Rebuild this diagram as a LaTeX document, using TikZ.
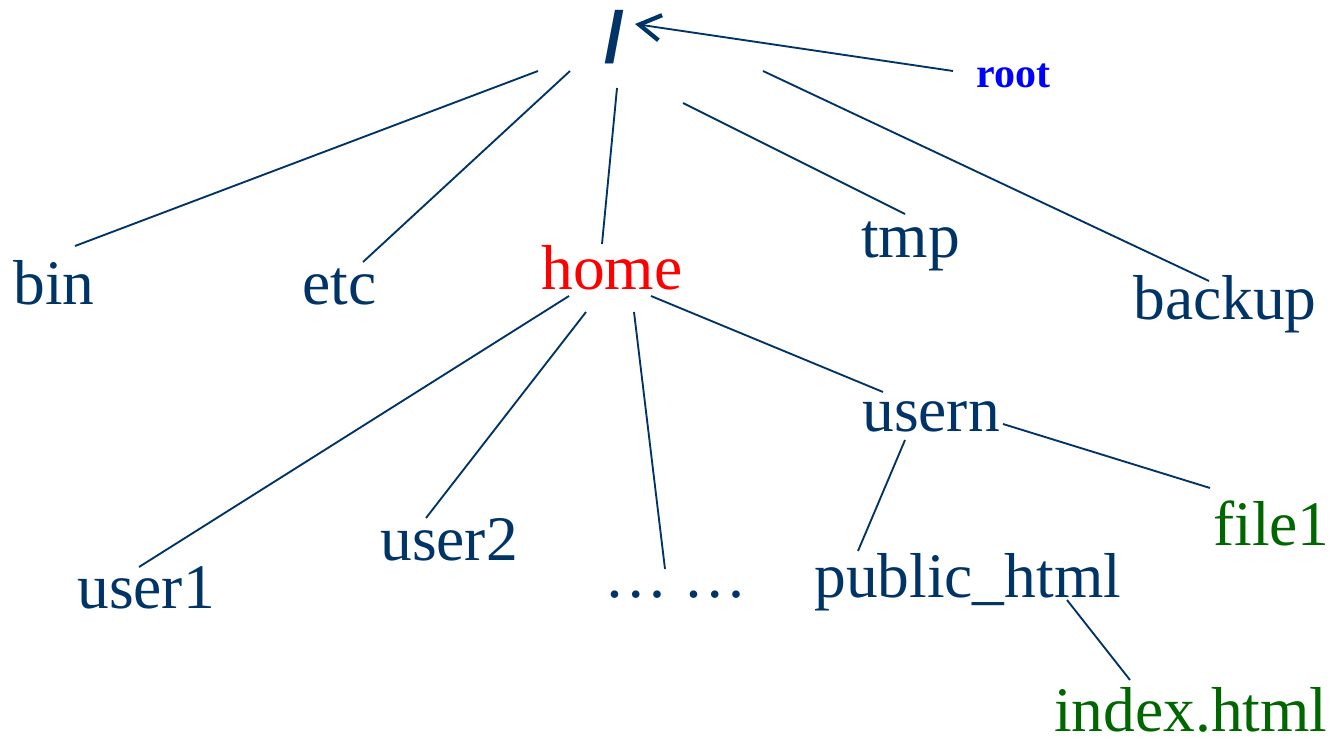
\documentclass[tikz,border=0pt]{standalone}
\usepackage{fontspec}
\setmainfont{Liberation Serif}
\newfontfamily\slashfont{Liberation Sans}
\usetikzlibrary{arrows.meta}
\definecolor{navy}{RGB}{0,51,102}
\definecolor{dirred}{RGB}{255,0,0}
\definecolor{filegreen}{RGB}{0,102,0}
\definecolor{rootblue}{RGB}{0,0,255}
\tikzset{
  dir/.style={anchor=base west, inner sep=0pt, text=navy,
    font=\fontsize{47.6}{50}\selectfont},
  cur/.style={dir, text=dirred},
  leaf/.style={dir, text=filegreen},
  link/.style={draw=navy, line width=1.4pt},
}
\begin{document}
\begin{tikzpicture}[x=0.75pt, y=-0.75pt]
\useasboundingbox (0,0) rectangle (1332,741);

% directory and file names (left edge, baseline)
\node[anchor=base west, inner sep=0pt, text=navy,
      font=\slashfont\bfseries\fontsize{54}{56}\selectfont] (slash) at (604,63) {/};
\node[anchor=base west, inner sep=0pt, text=rootblue,
      font=\bfseries\fontsize{31.5}{33}\selectfont] (root) at (976,88) {root};
\node[dir]  (bin)     at (13,305)   {bin};
\node[dir]  (etc)     at (302,305)  {etc};
\node[cur]  (home)    at (541,290)  {home};
\node[dir]  (tmp)     at (861,258)  {tmp};
\node[dir]  (backup)  at (1133,320) {backup};
\node[dir]  (user1)   at (77,608)   {user1};
\node[dir]  (user2)   at (380,560)  {user2};
\node[dir]  (dots)    at (604,597)  {\dots{} \dots};
\node[dir]  (usern)   at (862,432)  {usern};
\node[dir]  (pubhtml) at (814,597)  {public\_html};
\node[leaf] (file1)   at (1213,545) {file1};
\node[leaf, text depth=0pt] (index) at (1054,731) {index.html};

% free ends of the connectors
\coordinate (s-bin)    at (538,71);
\coordinate (bin-s)    at (75,246);
\coordinate (s-etc)    at (570,71);
\coordinate (etc-s)    at (363,262);
\coordinate (s-home)   at (617,88);
\coordinate (home-s)   at (602,244);
\coordinate (s-tmp)    at (683,103);
\coordinate (tmp-s)    at (905,214);
\coordinate (s-backup) at (763,71);
\coordinate (backup-s) at (1209,281);
\coordinate (root-s)   at (953,71);
\coordinate (s-root)   at (635,24);
\coordinate (h-user1)  at (569,296);
\coordinate (user1-h)  at (139,567);
\coordinate (h-user2)  at (586,312);
\coordinate (user2-h)  at (426,518);
\coordinate (h-dots)   at (634,312);
\coordinate (dots-h)   at (665,569);
\coordinate (h-usern)  at (651,296);
\coordinate (usern-h)  at (883,392);
\coordinate (u-pub)    at (905,440);
\coordinate (pub-u)    at (858,551);
\coordinate (u-file1)  at (1003,424);
\coordinate (file1-u)  at (1210,488);
\coordinate (p-index)  at (1067,600);
\coordinate (index-p)  at (1130,680);

% tree branches
\draw[link] (s-bin)    -- (bin-s);
\draw[link] (s-etc)    -- (etc-s);
\draw[link] (s-home)   -- (home-s);
\draw[link] (s-tmp)    -- (tmp-s);
\draw[link] (s-backup) -- (backup-s);
\draw[link] (h-user1)  -- (user1-h);
\draw[link] (h-user2)  -- (user2-h);
\draw[link] (h-dots)   -- (dots-h);
\draw[link] (h-usern)  -- (usern-h);
\draw[link] (u-pub)    -- (pub-u);
\draw[link] (u-file1)  -- (file1-u);
\draw[link] (p-index)  -- (index-p);

% pointer from the label to the root directory
\draw[link, -{Straight Barb[length=16pt, width=19pt, line width=3.2pt]}] (root-s) -- (s-root);
\end{tikzpicture}
\end{document}
